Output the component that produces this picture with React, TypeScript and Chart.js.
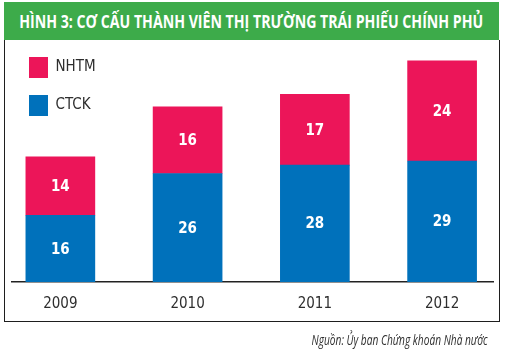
import { useEffect, useRef } from 'react';
import { Chart, registerables } from 'chart.js';

Chart.register(...registerables);

// Số liệu: thành viên thị trường trái phiếu Chính phủ theo năm
const years = ['2009', '2010', '2011', '2012'];
const ctck = [16, 26, 28, 29];
const nhtm = [14, 16, 17, 24];

const seriesNames = { ctck: 'CTCK', nhtm: 'NHTM' };

const GREEN = '#3DAB4A';
const PINK = '#EC1559';
const BLUE = '#0071BB';
const TEXT = '#2e2e2e';
const CANVAS_FONT = "'DejaVu Sans Condensed', 'Roboto', sans-serif";
const HTML_FONT = "'Open Sans', 'Noto Sans', sans-serif";

// Writes each segment's value in white at the middle of its bar
const valueLabels = {
  id: 'valueLabels',
  afterDatasetsDraw(chart: Chart) {
    const { ctx } = chart;
    ctx.save();
    ctx.fillStyle = '#ffffff';
    ctx.font = `bold 15px ${CANVAS_FONT}`;
    ctx.textAlign = 'center';
    ctx.textBaseline = 'middle';
    chart.data.datasets.forEach((ds, di) => {
      const meta = chart.getDatasetMeta(di);
      meta.data.forEach((el: any, i) => {
        const raw: any = ds.data[i];
        const { x, y } = el.getCenterPoint();
        ctx.fillText(String(raw.y), x, y + 1);
      });
    });
    ctx.restore();
  },
};

// Squeezes a line of text horizontally so that it spans the given width
function fitWidth(el: HTMLElement | null, target: number) {
  if (!el) return;
  el.style.transform = 'none';
  const w = el.getBoundingClientRect().width;
  if (w > 0) el.style.transform = `scaleX(${target / w})`;
}

export default function App() {
  const canvasRef = useRef<HTMLCanvasElement>(null);
  const titleRef = useRef<HTMLSpanElement>(null);
  const sourceRef = useRef<HTMLSpanElement>(null);

  useEffect(() => {
    fitWidth(titleRef.current, 464);
    fitWidth(sourceRef.current, 176);

    const chart = new Chart(canvasRef.current!, {
      type: 'bar',
      data: {
        datasets: [
          {
            label: seriesNames.ctck,
            data: ctck.map((v, i) => ({ x: i, y: v })),
            backgroundColor: BLUE,
            borderWidth: 0,
          },
          {
            label: seriesNames.nhtm,
            data: nhtm.map((v, i) => ({ x: i, y: v })),
            backgroundColor: PINK,
            borderWidth: 0,
          },
        ],
      },
      options: {
        responsive: false,
        animation: false,
        layout: { padding: { left: 12, right: 17, top: 40, bottom: 0 } },
        datasets: { bar: { barThickness: 69 } },
        scales: {
          x: {
            type: 'linear',
            stacked: true,
            offset: false,
            min: -0.38,
            max: 3.4,
            grid: { display: false, drawTicks: false, offset: false },
            border: { display: true, color: '#222222', width: 1.5 },
            afterFit(scale: any) {
              scale.height = 71;
            },
            ticks: {
              stepSize: 1,
              includeBounds: false,
              autoSkip: false,
              maxRotation: 0,
              padding: 13,
              color: TEXT,
              font: { family: CANVAS_FONT, size: 15 },
              callback: (v: any) => (Number.isInteger(v) && years[v] ? years[v] : ''),
            },
          },
          y: {
            stacked: true,
            display: false,
            min: 0,
            max: 58,
          },
        },
        plugins: {
          legend: {
            position: 'chartArea',
            align: 'start',
            fullSize: false,
            reverse: true,
            // an empty title keeps the legend clear of the header band
            title: {
              display: true,
              text: '',
              font: { size: 10 },
              padding: { top: 28, bottom: 0 },
            },
            labels: {
              boxWidth: 19,
              boxHeight: 21,
              padding: 17,
              color: TEXT,
              font: { family: CANVAS_FONT, size: 15 },
            },
          },
          tooltip: { enabled: false },
          title: { display: false },
        },
      },
      plugins: [valueLabels],
    } as any);
    return () => chart.destroy();
  }, []);

  return (
    <div
      style={{
        position: 'absolute',
        left: 0,
        top: 0,
        width: 510,
        height: 353,
        background: '#ffffff',
        overflow: 'hidden',
      }}
    >
      <div
        style={{
          position: 'absolute',
          left: 4,
          top: 2,
          width: 495,
          height: 38,
          background: GREEN,
          display: 'flex',
          alignItems: 'center',
          justifyContent: 'center',
        }}
      >
        <span
          ref={titleRef}
          style={{
            display: 'inline-block',
            color: '#ffffff',
            fontFamily: HTML_FONT,
            fontWeight: 700,
            fontSize: 17.5,
            lineHeight: '22px',
            whiteSpace: 'nowrap',
            transformOrigin: 'center center',
          }}
        >
          HÌNH 3: CƠ CẤU THÀNH VIÊN THỊ TRƯỜNG TRÁI PHIẾU CHÍNH PHỦ
        </span>
      </div>
      <div
        style={{
          position: 'absolute',
          left: 4,
          top: 40,
          width: 496,
          height: 282,
          boxSizing: 'border-box',
          borderLeft: '1.5px solid #1e1e1e',
          borderRight: '1.5px solid #1e1e1e',
          borderBottom: '1.5px solid #1e1e1e',
        }}
      />
      <canvas
        ref={canvasRef}
        width={510}
        height={353}
        style={{ position: 'absolute', left: 0, top: 0, width: 510, height: 353 }}
      />
      <div
        style={{
          position: 'absolute',
          right: 22,
          top: 331,
          lineHeight: '18px',
          whiteSpace: 'nowrap',
        }}
      >
        <span
          ref={sourceRef}
          style={{
            display: 'inline-block',
            fontFamily: HTML_FONT,
            fontStyle: 'italic',
            fontSize: 14,
            color: TEXT,
            transformOrigin: 'right center',
          }}
        >
          Nguồn: Ủy ban Chứng khoán Nhà nước
        </span>
      </div>
    </div>
  );
}
